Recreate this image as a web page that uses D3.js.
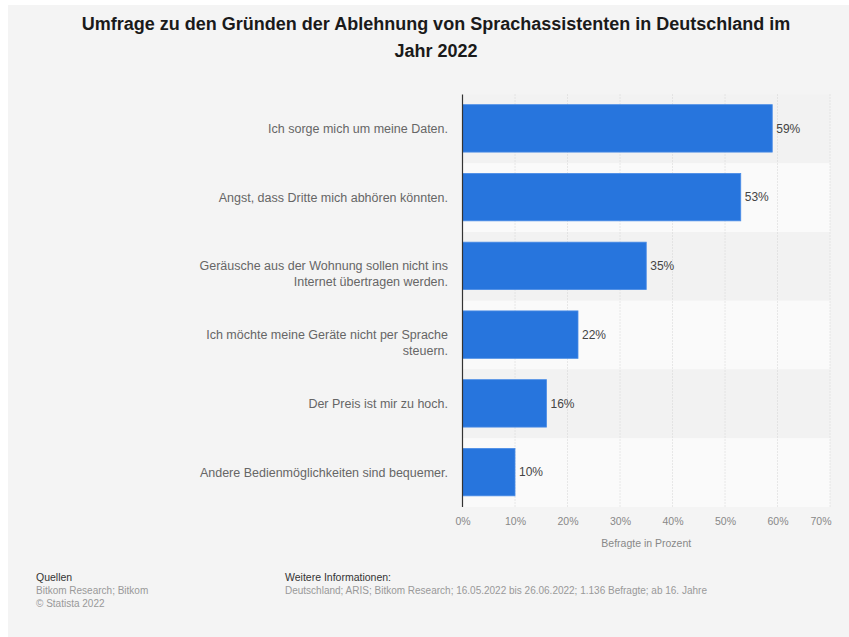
<!DOCTYPE html>
<html><head><meta charset="utf-8">
<script src="https://cdn.jsdelivr.net/npm/d3@7"></script>
<style>
html,body{margin:0;padding:0;background:#fff;}
svg{display:block;font-family:"Liberation Sans",Arial,sans-serif;}
</style></head>
<body>
<script>
const categories = [
  ["Ich sorge mich um meine Daten."],
  ["Angst, dass Dritte mich abhören könnten."],
  ["Geräusche aus der Wohnung sollen nicht ins", "Internet übertragen werden."],
  ["Ich möchte meine Geräte nicht per Sprache", "steuern."],
  ["Der Preis ist mir zu hoch."],
  ["Andere Bedienmöglichkeiten sind bequemer."]
];
const values = [59, 53, 35, 22, 16, 10];
const xTicks = [0, 10, 20, 30, 40, 50, 60, 70];
const titleLines = ["Umfrage zu den Gründen der Ablehnung von Sprachassistenten in Deutschland im", "Jahr 2022"];
const axisTitle = "Befragte in Prozent";
const sourceLines = ["Bitkom Research; Bitkom", "© Statista 2022"];
const infoLines = ["Deutschland; ARIS; Bitkom Research; 16.05.2022 bis 26.06.2022; 1.136 Befragte; ab 16. Jahre"];

const W = 849, H = 637;
const svg = d3.select("body").append("svg").attr("width", W).attr("height", H);
svg.append("rect").attr("x", 8).attr("y", 5).attr("width", W - 8).attr("height", H - 5).attr("fill", "#f4f4f4");

const m = {left: 462.5, right: 830, top: 94.5, bottom: 507};
const x = d3.scaleLinear().domain([0, 70]).range([m.left, m.right]);
const idx = d3.range(values.length);
const y = d3.scaleBand().domain(idx).range([m.top, m.bottom]).paddingInner(0);
const bandPad = 0.31;

// title
svg.append("g").selectAll("text").data(titleLines).join("text")
  .attr("x", 436).attr("y", (d, i) => 30 + i * 27)
  .attr("text-anchor", "middle").attr("font-size", 18).attr("font-weight", "bold").attr("fill", "#1a1a1a")
  .text(d => d);

// row bands
svg.append("g").selectAll("rect").data(idx).join("rect")
  .attr("x", m.left).attr("width", m.right - m.left)
  .attr("y", d => y(d)).attr("height", y.bandwidth())
  .attr("fill", d => d % 2 === 0 ? "#f2f2f2" : "#fafafa");

// gridlines
svg.append("g").selectAll("line").data(xTicks.slice(1)).join("line")
  .attr("x1", d => x(d)).attr("x2", d => x(d))
  .attr("y1", m.top).attr("y2", m.bottom)
  .attr("stroke", "#d4d4d4").attr("stroke-width", 1).attr("stroke-dasharray", "1,2");

// bars
const bh = y.bandwidth() * (1 - bandPad);
svg.append("g").selectAll("rect").data(idx).join("rect")
  .attr("x", x(0)).attr("width", d => x(values[d]) - x(0))
  .attr("y", d => y(d) + (y.bandwidth() - bh) / 2 - 0.5).attr("height", bh)
  .attr("fill", "#2775dd").attr("stroke", "#4b8de6").attr("stroke-width", 0.8);

// value labels
svg.append("g").selectAll("text").data(idx).join("text")
  .attr("x", d => x(values[d]) + 4).attr("y", d => y(d) + y.bandwidth() / 2 - 0.5)
  .attr("dy", "0.35em").attr("font-size", 12).attr("fill", "#444")
  .text(d => values[d] + "%");

// category labels
const cg = svg.append("g");
idx.forEach(i => {
  const lines = categories[i];
  const cy = y(i) + y.bandwidth() / 2 - 0.5;
  lines.forEach((t, j) => {
    cg.append("text").attr("x", 448).attr("y", cy + j * 16)
      .attr("dy", "0.35em").attr("text-anchor", "end").attr("font-size", 12.5).attr("fill", "#666")
      .text(t);
  });
});

// y axis line
svg.append("line").attr("x1", m.left).attr("x2", m.left).attr("y1", m.top).attr("y2", m.bottom)
  .attr("stroke", "#333").attr("stroke-width", 1.2);

// x axis ticks
const xa = svg.append("g").attr("transform", `translate(0,${m.bottom})`)
  .call(d3.axisBottom(x).tickValues(xTicks).tickFormat(d => d + "%").tickSize(0).tickPadding(11));
xa.select(".domain").remove();
xa.selectAll("text").attr("font-size", 10.5).attr("fill", "#888").attr("font-family", "Liberation Sans, Arial, sans-serif")
  .attr("text-anchor", d => d === 70 ? "end" : "middle")
  .attr("dx", d => d === 70 ? 1 : 0);

svg.append("text").attr("x", (m.left + m.right) / 2).attr("y", 547).attr("text-anchor", "middle")
  .attr("font-size", 10.5).attr("fill", "#888").text(axisTitle);

// footer
svg.append("text").attr("x", 36).attr("y", 581).attr("font-size", 10.5).attr("fill", "#333").text("Quellen");
svg.append("g").selectAll("text").data(sourceLines).join("text")
  .attr("x", 36).attr("y", (d, i) => 594 + i * 13).attr("font-size", 10).attr("fill", "#999").text(d => d);
svg.append("text").attr("x", 285).attr("y", 581).attr("font-size", 10.5).attr("fill", "#333").text("Weitere Informationen:");
svg.append("g").selectAll("text").data(infoLines).join("text")
  .attr("x", 285).attr("y", (d, i) => 594 + i * 13).attr("font-size", 10).attr("fill", "#999").text(d => d);
</script>
</body></html>
